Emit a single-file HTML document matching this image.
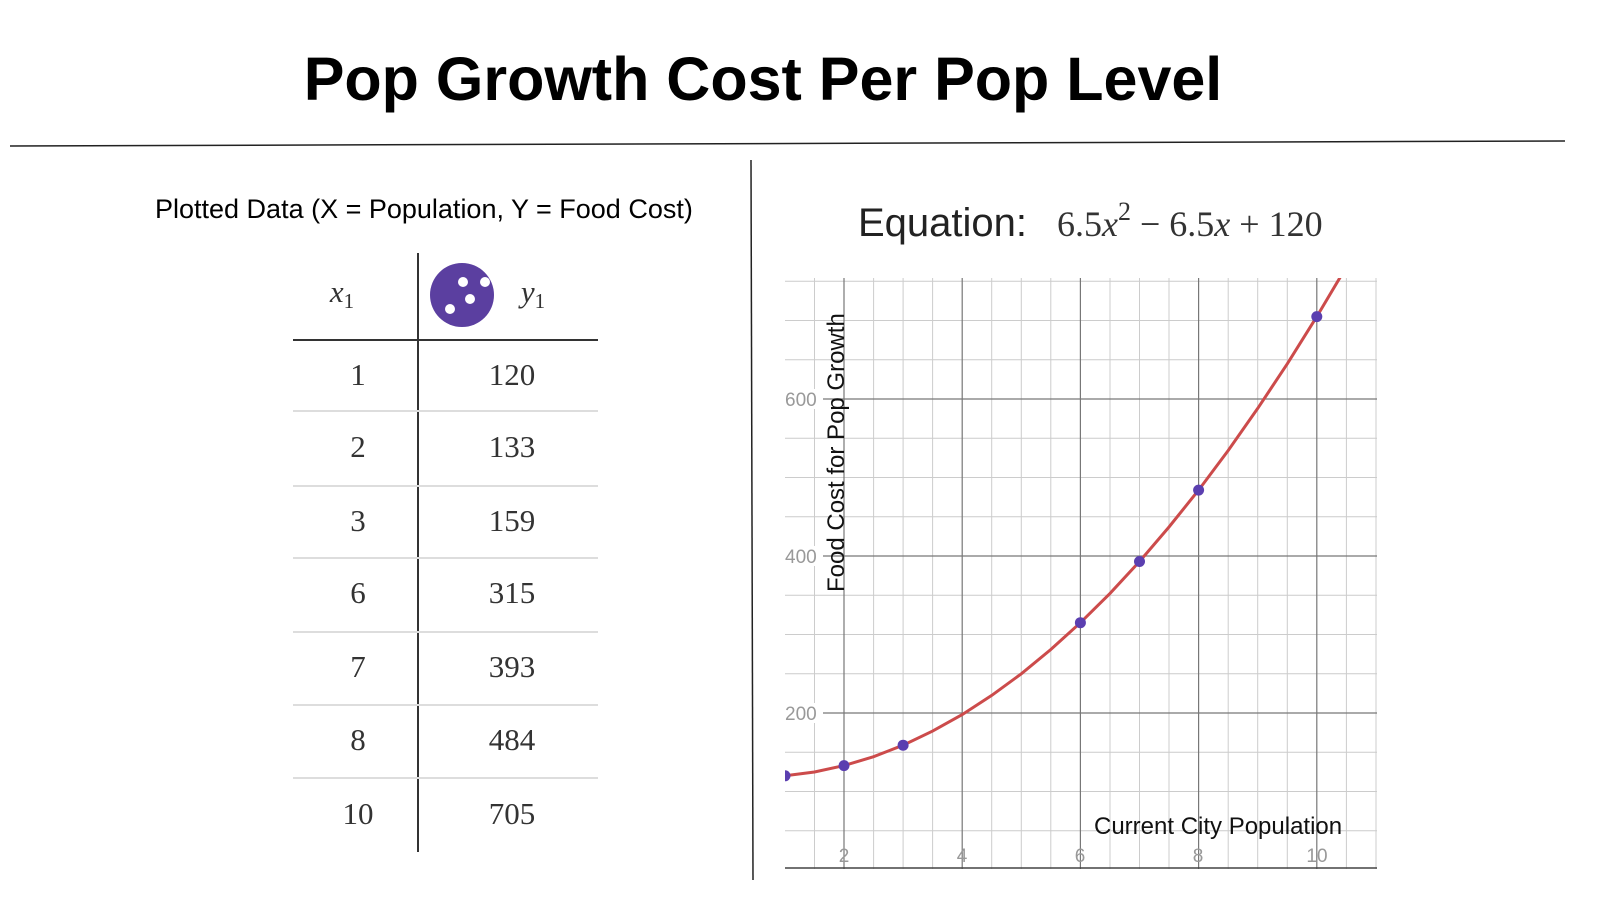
<!DOCTYPE html>
<html><head><meta charset="utf-8"><style>
body{margin:0;width:1600px;height:900px;background:#fff;overflow:hidden;font-family:"Liberation Sans",sans-serif}
</style></head><body>
<svg width="1600" height="900" viewBox="0 0 1600 900" xmlns="http://www.w3.org/2000/svg">
<text x="763" y="100" text-anchor="middle" font-family="Liberation Sans" font-weight="bold" font-size="61">Pop Growth Cost Per Pop Level</text>
<line x1="10" y1="146" x2="1565" y2="141" stroke="#222" stroke-width="1.5"/>
<line x1="751" y1="160" x2="753" y2="880" stroke="#222" stroke-width="1.5"/>
<text x="155" y="218" font-family="Liberation Sans" font-size="27">Plotted Data (X = Population, Y = Food Cost)</text>
<!-- table -->
<g font-family="Liberation Serif" font-size="31" fill="#333" text-anchor="middle">
<line x1="418" y1="253" x2="418" y2="852" stroke="#333" stroke-width="2"/>
<line x1="293" y1="340" x2="598" y2="340" stroke="#333" stroke-width="2"/>
<g stroke="#ddd" stroke-width="2">
<line x1="293" y1="411" x2="598" y2="411"/><line x1="293" y1="486" x2="598" y2="486"/>
<line x1="293" y1="558" x2="598" y2="558"/><line x1="293" y1="632" x2="598" y2="632"/>
<line x1="293" y1="705" x2="598" y2="705"/><line x1="293" y1="778" x2="598" y2="778"/></g>
<text x="342" y="302" font-style="italic">x<tspan font-size="21" font-style="normal" dy="6">1</tspan></text>
<text x="533" y="302" font-style="italic">y<tspan font-size="21" font-style="normal" dy="6">1</tspan></text>
<circle cx="462" cy="295" r="32" fill="#5b3fa0"/>
<circle cx="463" cy="282" r="5" fill="#fff"/><circle cx="488" cy="285" r="5" fill="#fff" transform="translate(-3,-3)"/>
<circle cx="470" cy="299" r="5" fill="#fff"/><circle cx="450" cy="309" r="5" fill="#fff"/>
<text x="358" y="385">1</text><text x="512" y="385">120</text>
<text x="358" y="457">2</text><text x="512" y="457">133</text>
<text x="358" y="531">3</text><text x="512" y="531">159</text>
<text x="358" y="603">6</text><text x="512" y="603">315</text>
<text x="358" y="677">7</text><text x="512" y="677">393</text>
<text x="358" y="750">8</text><text x="512" y="750">484</text>
<text x="358" y="824">10</text><text x="512" y="824">705</text>
</g>
<!-- equation -->
<text x="858" y="236" font-family="Liberation Sans" font-size="40" fill="#222">Equation:</text>
<text x="1057" y="236" font-family="Liberation Serif" font-size="36" fill="#333">6.5<tspan font-style="italic">x</tspan><tspan font-size="26" dy="-16">2</tspan><tspan dy="16"> − 6.5</tspan><tspan font-style="italic">x</tspan> + 120</text>
<!-- graph -->
<defs><clipPath id="c"><rect x="785" y="278" width="592" height="591"/></clipPath></defs>
<g clip-path="url(#c)">
<g stroke="#ccc" stroke-width="1">
<line x1="785" y1="830.8" x2="1377" y2="830.8"/><line x1="785" y1="791.5" x2="1377" y2="791.5"/><line x1="785" y1="752.3" x2="1377" y2="752.3"/>
<line x1="785" y1="673.8" x2="1377" y2="673.8"/><line x1="785" y1="634.5" x2="1377" y2="634.5"/><line x1="785" y1="595.3" x2="1377" y2="595.3"/>
<line x1="785" y1="516.8" x2="1377" y2="516.8"/><line x1="785" y1="477.5" x2="1377" y2="477.5"/><line x1="785" y1="438.3" x2="1377" y2="438.3"/>
<line x1="785" y1="359.8" x2="1377" y2="359.8"/><line x1="785" y1="320.5" x2="1377" y2="320.5"/><line x1="785" y1="281.3" x2="1377" y2="281.3"/>
<line x1="814.5" y1="278" x2="814.5" y2="869"/><line x1="873.6" y1="278" x2="873.6" y2="869"/><line x1="903.1" y1="278" x2="903.1" y2="869"/><line x1="932.6" y1="278" x2="932.6" y2="869"/>
<line x1="991.7" y1="278" x2="991.7" y2="869"/><line x1="1021.3" y1="278" x2="1021.3" y2="869"/><line x1="1050.8" y1="278" x2="1050.8" y2="869"/>
<line x1="1110" y1="278" x2="1110" y2="869"/><line x1="1139.5" y1="278" x2="1139.5" y2="869"/><line x1="1169" y1="278" x2="1169" y2="869"/>
<line x1="1228.2" y1="278" x2="1228.2" y2="869"/><line x1="1257.7" y1="278" x2="1257.7" y2="869"/><line x1="1287.3" y1="278" x2="1287.3" y2="869"/>
<line x1="1346.4" y1="278" x2="1346.4" y2="869"/><line x1="1376" y1="278" x2="1376" y2="869"/>
</g>
<g stroke="#777" stroke-width="1.2">
<line x1="785" y1="713" x2="1377" y2="713"/><line x1="785" y1="556" x2="1377" y2="556"/><line x1="785" y1="399" x2="1377" y2="399"/>
<line x1="844" y1="278" x2="844" y2="869"/><line x1="962.2" y1="278" x2="962.2" y2="869"/><line x1="1080.4" y1="278" x2="1080.4" y2="869"/><line x1="1198.6" y1="278" x2="1198.6" y2="869"/><line x1="1316.8" y1="278" x2="1316.8" y2="869"/>
</g>
<line x1="785" y1="868" x2="1377" y2="868" stroke="#444" stroke-width="1.5"/>
<g font-family="Liberation Sans" font-size="19" fill="#999" text-anchor="middle">
<text x="844" y="862">2</text><text x="962" y="862">4</text><text x="1080" y="862">6</text><text x="1198" y="862">8</text><text x="1317" y="862">10</text>
</g>
<g font-family="Liberation Sans" font-size="19" fill="#999">
<rect x="783" y="389" width="40" height="20" fill="#fff"/><text x="785" y="406">600</text>
<rect x="783" y="546" width="40" height="20" fill="#fff"/><text x="785" y="563">400</text>
<rect x="783" y="703" width="40" height="20" fill="#fff"/><text x="785" y="720">200</text>
</g>
<polyline fill="none" stroke="#cc4b4b" stroke-width="3" points="785,775.8 814.5,772 844,765.6 873.6,756.7 903.1,745.2 932.6,731.1 962.2,714.6 991.7,695.4 1021.3,673.8 1050.8,649.5 1080.4,622.7 1110,593.4 1139.5,561.5 1169,527 1198.6,490.1 1228.2,450.5 1257.7,408.4 1287.3,363.8 1316.8,316.6 1346.4,266.8"/>
<g fill="#5b3fb0">
<circle cx="785" cy="775.8" r="5.5"/><circle cx="844" cy="765.6" r="5.5"/><circle cx="903.1" cy="745.2" r="5.5"/><circle cx="1080.4" cy="622.7" r="5.5"/><circle cx="1139.5" cy="561.5" r="5.5"/><circle cx="1198.6" cy="490.1" r="5.5"/><circle cx="1316.8" cy="316.6" r="5.5"/>
</g>
</g>
<text x="1094" y="834" font-family="Liberation Sans" font-size="24" fill="#111">Current City Population</text>
<text transform="translate(844,592) rotate(-90)" font-family="Liberation Sans" font-size="24" fill="#111">Food Cost for Pop Growth</text>
</svg>
</body></html>
